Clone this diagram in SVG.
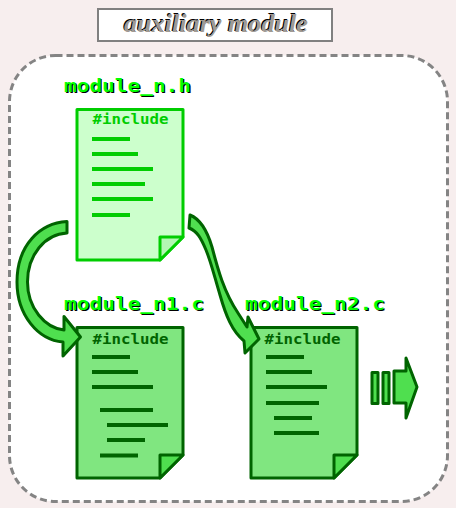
<svg xmlns="http://www.w3.org/2000/svg" width="456" height="508" viewBox="0 0 456 508">
<style>
.mono{font-family:"DejaVu Sans Mono",monospace;font-weight:bold}
.name{font-size:18px;text-shadow:1px 1px 0 #000;fill:#00ff00}
.inc{font-size:14.500px}
.doc{stroke-width:3;stroke-linejoin:round}
.ln{stroke-width:4;fill:none}
.a{fill:#4fdf4f;stroke:#006400;stroke-width:3;stroke-linejoin:round}
.l1{stroke:#00cd00}.l2{stroke:#006400}
</style>
<rect width="456" height="508" fill="#f7eeee"/>
<g id="frame"><rect x="9.500" y="55.500" width="438" height="446" rx="46" ry="46" fill="#fff" stroke="#848484" stroke-width="3" stroke-dasharray="7 4"/></g>
<g id="title"><rect x="98" y="9" width="234" height="32" fill="#fff" stroke="#808080" stroke-width="2"/>
<text x="124" y="31.500" textLength="184" lengthAdjust="spacingAndGlyphs" font-family="Liberation Serif, serif" font-weight="bold" font-style="italic" font-size="25px" fill="#a09a94" style="text-shadow:-1px -1px 0 #000">auxiliary module</text></g>
<g id="module_n_h">
<text class="mono name" x="64" y="91.500" textLength="127" lengthAdjust="spacingAndGlyphs">module_n.h</text>
<path class="doc" d="M77 109.500H183V237L160 260H77Z" fill="#ccffcc" stroke="#00cd00"/>
<path class="doc" d="M160 260V237H183Z" fill="#b3f7b3" stroke="#00cd00"/>
<text class="mono inc" x="92.500" y="124" textLength="76" lengthAdjust="spacingAndGlyphs" fill="#00cd00">#include</text>
<path class="ln l1" d="M92 139H130M92 154H138M92 169H153M92 184H145M92 199H153M92 215H130"/>
</g>
<g id="module_n1_c">
<text class="mono name" x="64" y="309.500" textLength="140" lengthAdjust="spacingAndGlyphs">module_n1.c</text>
<path class="doc" d="M77 327.500H183V455L160 478H77Z" fill="#80e680" stroke="#006400"/>
<path class="doc" d="M160 478V455H183Z" fill="#4fdf4f" stroke="#006400"/>
<text class="mono inc" x="92.500" y="344" textLength="76" lengthAdjust="spacingAndGlyphs" fill="#006400">#include</text>
<path class="ln l2" d="M92 357H130M92 372H138M92 387H153M100 410H153M107 425H168M107 440H145M100 455.500H138"/>
</g>
<g id="module_n2_c">
<text class="mono name" x="245" y="309.500" textLength="140" lengthAdjust="spacingAndGlyphs">module_n2.c</text>
<path class="doc" d="M251 327.500H357V455L334 478H251Z" fill="#80e680" stroke="#006400"/>
<path class="doc" d="M334 478V455H357Z" fill="#4fdf4f" stroke="#006400"/>
<text class="mono inc" x="264.500" y="344" textLength="76" lengthAdjust="spacingAndGlyphs" fill="#006400">#include</text>
<path class="ln l2" d="M266 357H304M266 372H312M266 387H327M266 403H319M274 418H312M274 433H319"/>
</g>
<g id="connectors">
<path class="a" d="M67 221.500C40 223 17 245 17 282C17 315 38 340 63 342L63 356L80.500 337L64 316.500L64 330C45 328 27.500 308 27.500 282C27.500 255 45 234 67 233Z"/>
<path class="a" d="M190 215C200 219 207 230 212 247C218 270 224 292 238 313L247 327L248 317L259 339L245 353L244 341C232 331 226 316 220 295C214 275 211 262 206 250C201 238 197 231 189 228Z"/>
<path class="a" d="M394 371L406 371L406 358L417 387L406 418L406 403L394 403Z"/>
<rect class="a" x="372" y="372.500" width="6" height="31"/>
<rect class="a" x="383" y="372.500" width="6" height="31"/>
</g>
</svg>
